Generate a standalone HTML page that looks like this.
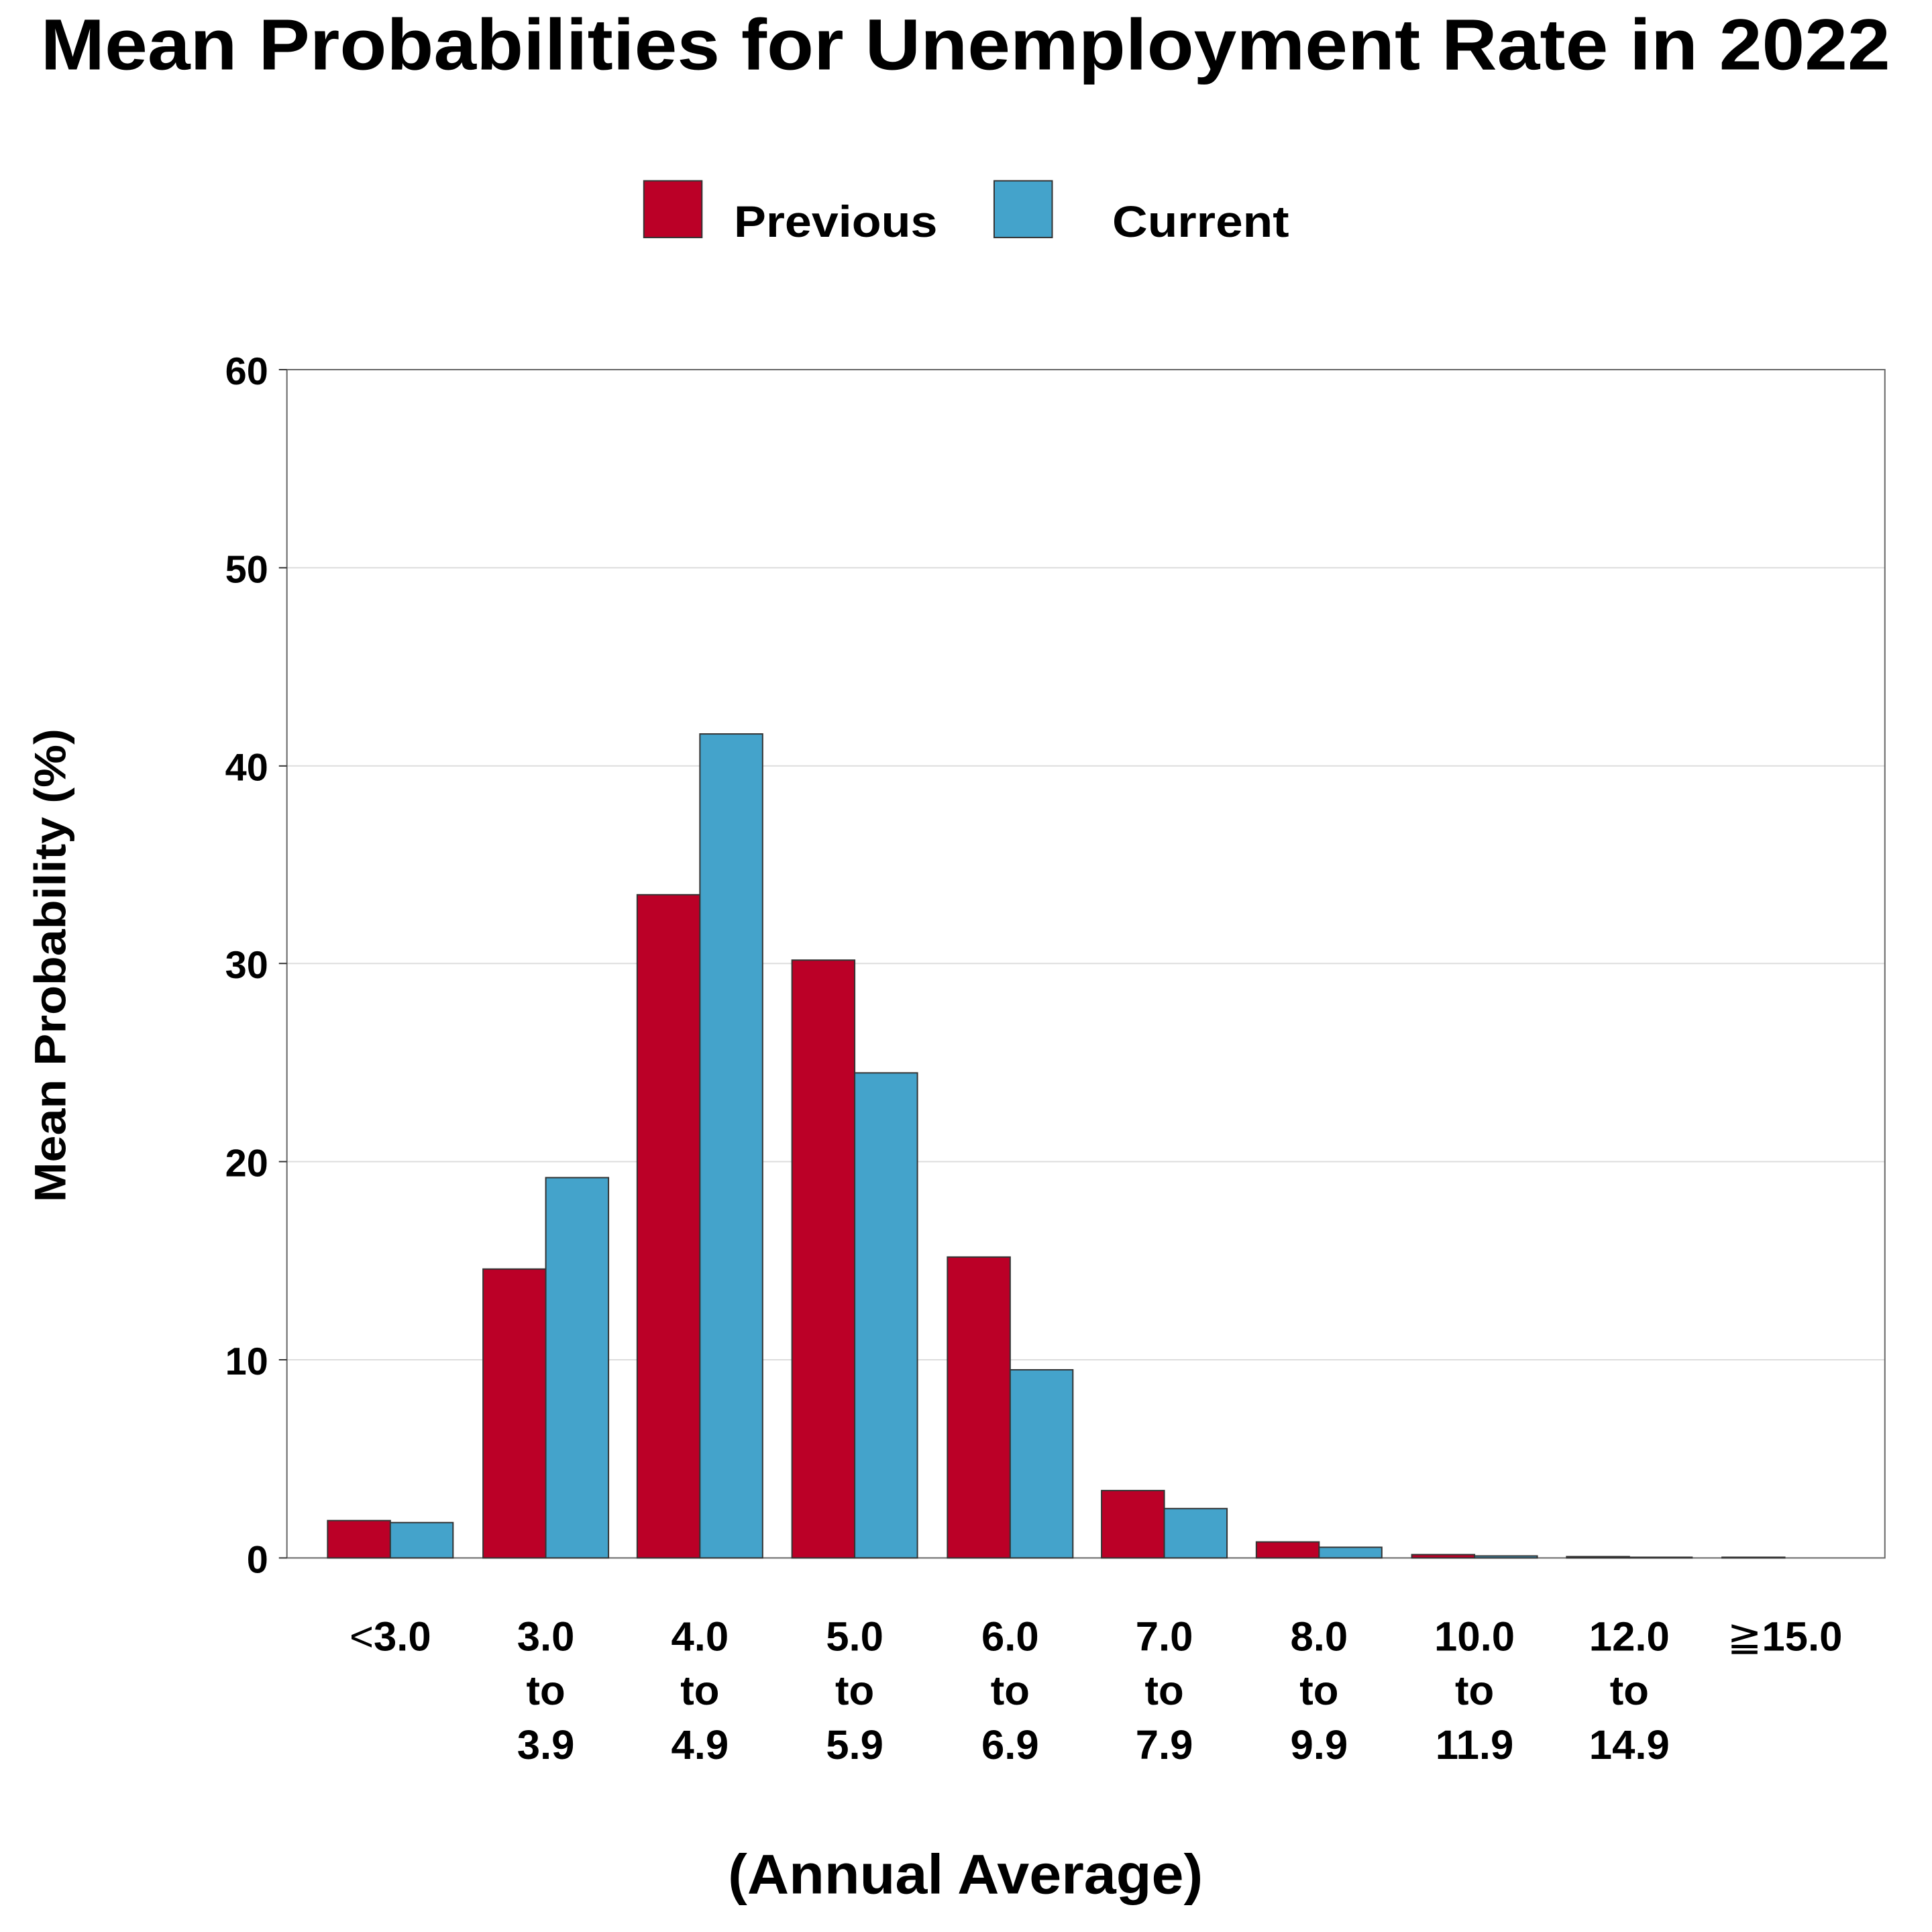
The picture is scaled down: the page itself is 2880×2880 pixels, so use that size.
<!DOCTYPE html>
<html><head><meta charset="utf-8"><style>body{margin:0;background:#fff}svg{display:block}</style></head><body>
<svg width="2880" height="2880" viewBox="0 0 2880 2880" xmlns="http://www.w3.org/2000/svg" font-family="Liberation Sans, sans-serif" font-weight="bold">
<g transform="scale(0.9946)">
<text x="1447" y="104" font-size="108" text-anchor="middle" textLength="2772" lengthAdjust="spacingAndGlyphs">Mean Probabilities for Unemployment Rate in 2022</text>
<rect x="965" y="271" width="87" height="85" fill="#bb0027" stroke="#333" stroke-width="2"/>
<text x="1100" y="355" font-size="66" textLength="305" lengthAdjust="spacingAndGlyphs">Previous</text>
<rect x="1490" y="271" width="87" height="85" fill="#44a3cb" stroke="#333" stroke-width="2"/>
<text x="1667" y="355" font-size="66" textLength="265" lengthAdjust="spacingAndGlyphs">Current</text>
<g stroke="#ddd" stroke-width="2">
<line x1="430" x2="2825" y1="2038" y2="2038"/><line x1="430" x2="2825" y1="1741" y2="1741"/><line x1="430" x2="2825" y1="1444" y2="1444"/><line x1="430" x2="2825" y1="1148" y2="1148"/><line x1="430" x2="2825" y1="851" y2="851"/>
</g>
<rect x="430" y="554" width="2395" height="1781" fill="none" stroke="#666" stroke-width="2"/>
<g stroke="#333" stroke-width="2" fill="#bb0027">
<rect x="491" y="2279" width="94" height="56"/>
<rect x="724" y="1902" width="94" height="433"/>
<rect x="955" y="1341" width="94" height="994"/>
<rect x="1187" y="1439" width="94" height="896"/>
<rect x="1420" y="1884" width="94" height="451"/>
<rect x="1651" y="2234" width="94" height="101"/>
<rect x="1883" y="2311" width="94" height="24"/>
<rect x="2116" y="2330" width="94" height="5"/>
<rect x="2348" y="2333" width="94" height="2"/>
<rect x="2581" y="2334" width="94" height="1"/>
</g>
<g stroke="#333" stroke-width="2" fill="#44a3cb">
<rect x="585" y="2282" width="94" height="53"/>
<rect x="818" y="1765" width="94" height="570"/>
<rect x="1049" y="1100" width="94" height="1235"/>
<rect x="1281" y="1608" width="94" height="727"/>
<rect x="1514" y="2053" width="94" height="282"/>
<rect x="1745" y="2261" width="94" height="74"/>
<rect x="1977" y="2319" width="94" height="16"/>
<rect x="2210" y="2332" width="94" height="3"/>
<rect x="2442" y="2334" width="94" height="1"/>
</g>
<g font-size="58" text-anchor="end">
<text x="402" y="576">60</text><text x="402" y="873">50</text><text x="402" y="1170">40</text><text x="402" y="1466">30</text><text x="402" y="1763">20</text><text x="402" y="2060">10</text><text x="402" y="2357">0</text>
</g>
<g stroke="#333" stroke-width="2"><line x1="418" x2="430" y1="554" y2="554"/><line x1="418" x2="430" y1="851" y2="851"/><line x1="418" x2="430" y1="1148" y2="1148"/><line x1="418" x2="430" y1="1444" y2="1444"/><line x1="418" x2="430" y1="1741" y2="1741"/><line x1="418" x2="430" y1="2038" y2="2038"/><line x1="418" x2="430" y1="2335" y2="2335"/></g>
<text transform="translate(98,1447) rotate(-90)" font-size="66" text-anchor="middle" textLength="710" lengthAdjust="spacingAndGlyphs">Mean Probability (%)</text>
<g font-size="62" text-anchor="middle">
<text x="585" y="2474"><tspan font-weight="normal">&lt;</tspan>3.0</text>
<text x="818" y="2474">3.0</text><text x="818" y="2555">to</text><text x="818" y="2636">3.9</text>
<text x="1049" y="2474">4.0</text><text x="1049" y="2555">to</text><text x="1049" y="2636">4.9</text>
<text x="1281" y="2474">5.0</text><text x="1281" y="2555">to</text><text x="1281" y="2636">5.9</text>
<text x="1514" y="2474">6.0</text><text x="1514" y="2555">to</text><text x="1514" y="2636">6.9</text>
<text x="1745" y="2474">7.0</text><text x="1745" y="2555">to</text><text x="1745" y="2636">7.9</text>
<text x="1977" y="2474">8.0</text><text x="1977" y="2555">to</text><text x="1977" y="2636">9.9</text>
<text x="2210" y="2474">10.0</text><text x="2210" y="2555">to</text><text x="2210" y="2636">11.9</text>
<text x="2442" y="2474">12.0</text><text x="2442" y="2555">to</text><text x="2442" y="2636">14.9</text>
<text x="2675" y="2474"><tspan font-weight="normal">≧</tspan>15.0</text>
</g>
<text x="1447" y="2838" font-size="84" text-anchor="middle" textLength="712" lengthAdjust="spacingAndGlyphs">(Annual Average)</text>
</g>
</svg>
</body></html>
